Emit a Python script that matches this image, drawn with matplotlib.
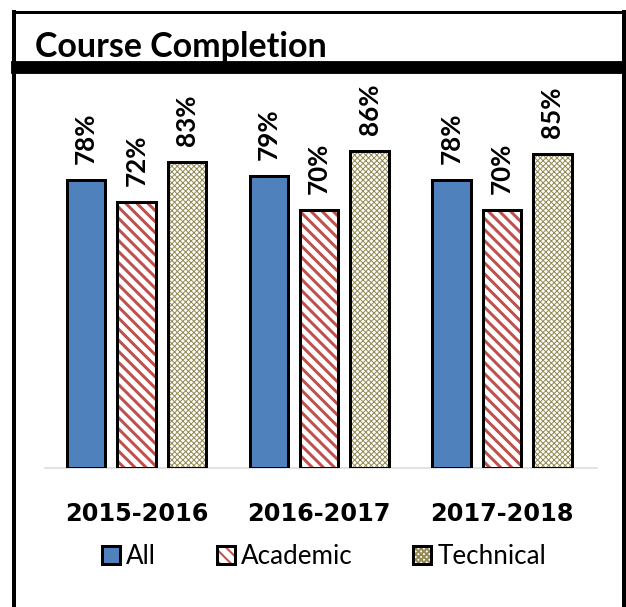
import numpy as np
import matplotlib
matplotlib.use("Agg")
import matplotlib.pyplot as plt
from matplotlib.patches import Rectangle

plt.rcParams['font.family'] = ['Lato', 'DejaVu Sans']

# data
years = ['2015-2016', '2016-2017', '2017-2018']
names = ['All', 'Academic', 'Technical']
all_pct = [78, 79, 78]
academic_pct = [72, 70, 70]
technical_pct = [83, 86, 85]

DPI = 133
W, H = 626, 607


def pt(px):
    # pixels -> points at this dpi
    return px * 72 / DPI


fig = plt.figure(figsize=(W / DPI, H / DPI), dpi=DPI)

# frame around the whole thing
bg = fig.add_axes([0, 0, 1, 1])
bg.set_xlim(0, W)
bg.set_ylim(H, 0)
bg.axis('off')
bg.plot([14, 14], [10, H + 5], color='black', lw=pt(4), solid_capstyle='butt')
bg.plot([624, 624], [10, H + 5], color='black', lw=pt(4), solid_capstyle='butt')
bg.plot([12, 626], [11.5, 11.5], color='black', lw=pt(3), solid_capstyle='butt')
bg.add_patch(Rectangle((12, 62), 614, 11, color='black'))

fig.text(35 / W, 1 - 57 / H, 'Course Completion', fontsize=pt(34),
         fontweight='bold', ha='left', va='baseline')

ax = fig.add_axes([45 / W, (H - 468) / H, 552 / W, 369 / H])
ax.patch.set_alpha(0)

x = np.arange(len(years))
offsets = [-0.276, 0, 0.276]
width = 0.21
series = [all_pct, academic_pct, technical_pct]
faces = ['#4F81BD', 'white', 'white']
hatch_cols = ['none', '#C0504D', '#948A54']
hatches = [None, '\\' * 4, 'x' * 8]
hatch_lw = [1.0, pt(3.0), pt(1.0)]

handles = []
for i, vals in enumerate(series):
    with plt.rc_context({'hatch.linewidth': hatch_lw[i]}):
        fill = ax.bar(x + offsets[i], vals, width, color=faces[i],
                      edgecolor=hatch_cols[i], hatch=hatches[i],
                      linewidth=0, zorder=2)
    border = ax.bar(x + offsets[i], vals, width, fill=False,
                    edgecolor='black', linewidth=pt(3), zorder=3)
    handles.append((fill[0], border[0]))
    for xi, v in zip(x + offsets[i], vals):
        ax.annotate(f'{v}%', (xi, v), xytext=(0, pt(16)),
                    textcoords='offset points', rotation=90,
                    ha='center', va='bottom', fontsize=pt(26),
                    fontweight='bold')

ax.set_xlim(-0.5, 2.52)
ax.set_ylim(0, 100)
ax.set_yticks([])
ax.set_xticks(x, years, fontsize=pt(24), fontweight='bold',
              family='DejaVu Sans')
ax.tick_params(axis='x', length=0, pad=pt(34))
for s in ['left', 'top', 'right']:
    ax.spines[s].set_visible(False)
ax.spines['bottom'].set_color('#D9D9D9')
ax.spines['bottom'].set_linewidth(pt(1.5))

fs = 26
with plt.rc_context({'hatch.linewidth': pt(2.0)}):
    fig.legend(handles, names, loc='center',
               bbox_to_anchor=(324 / W, 1 - 557 / H), ncol=3, frameon=False,
               fontsize=pt(fs), handlelength=18 / fs, handleheight=18 / fs,
               handletextpad=6 / fs, columnspacing=61 / fs, borderpad=0)

fig.savefig('out.png', dpi=DPI)
